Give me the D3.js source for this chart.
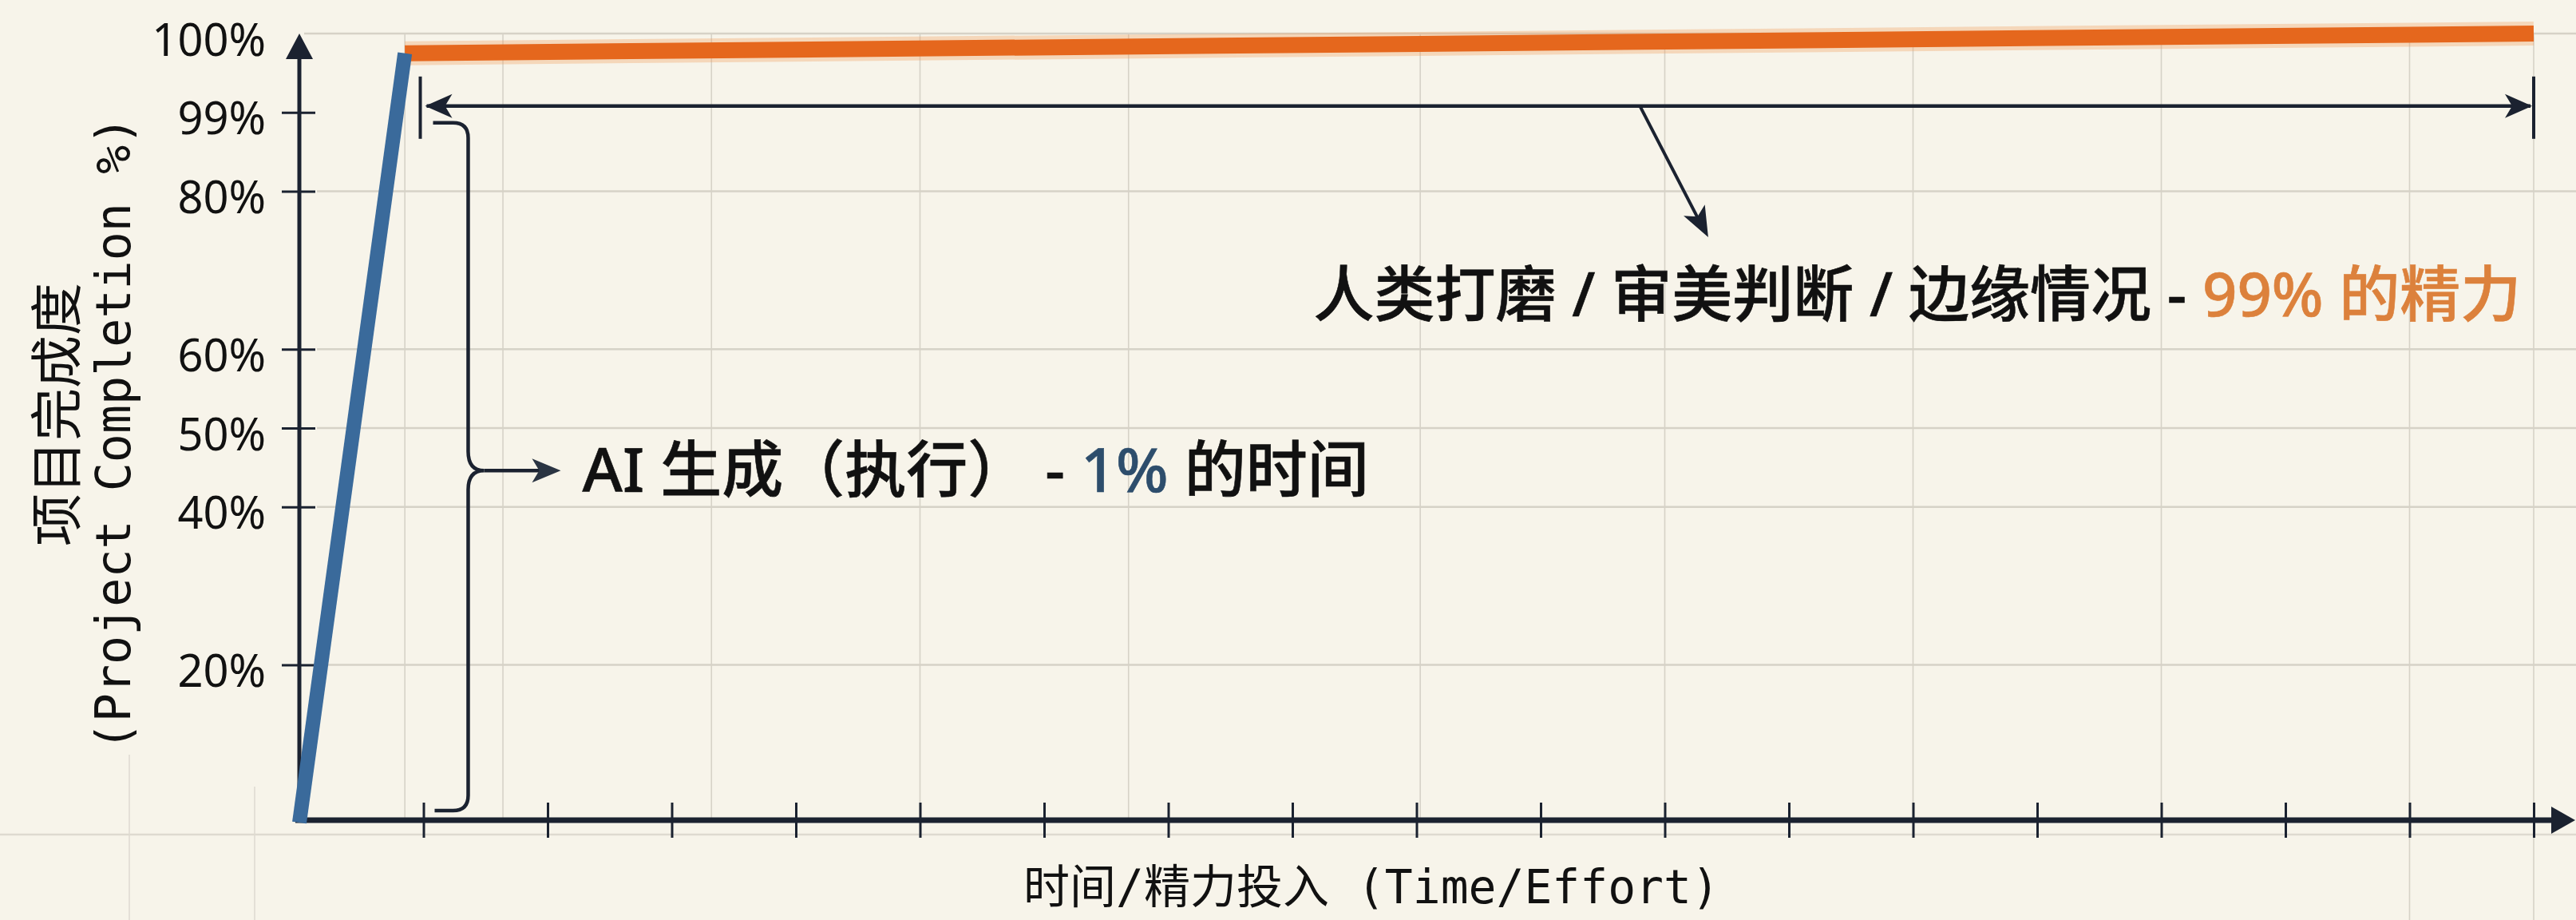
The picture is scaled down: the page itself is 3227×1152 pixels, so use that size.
<!DOCTYPE html>
<html><head><meta charset="utf-8">
<script src="https://cdn.jsdelivr.net/npm/d3@7"></script>
<style>
html,body{margin:0;padding:0;background:#f7f4ea;overflow:hidden;}
svg{display:block;}
text{white-space:pre;}
</style></head><body>
<svg id="chart" width="3227" height="1152"></svg>
<script>
// ---------------- data ----------------
const xTickValues = [1,2,3,4,5,6,7,8,9,10,11,12,13,14,15,16,17,18];
const yTickValues = [20,40,50,60,80,99,100];
const yTickLabels = ["20%","40%","50%","60%","80%","99%","100%"];
const aiX = [0, 0.85];          // AI generation phase (time)
const aiY = [0, 99.75];         // completion %
const humanX = [0.85, 18];      // human polishing phase (time)
const humanY = [99.75, 100];    // completion %
const gridXValues = [0.85, 1.64, 3.32, 5, 6.68, 9.03, 11, 13, 15, 17, 18];
const gridYValues = [20,40,50,60,80,100];
const yTitleLines = ["项目完成度", "(Project Completion %)"];
const xTitleText = "时间/精力投入 (Time/Effort)";
const aiLabelParts = ["AI 生成（执行） - ", "1%", " 的时间"];
const humanLabelParts = ["人类打磨 / 审美判断 / 边缘情况 - ", "99% 的精力"];

// ---------------- layout ----------------
const W = 3227, H = 1152;
const xLeft = 375, xRight = 3174;
const yTop = 42, yBot = 1030;
const ph = yBot - yTop;
const x = d3.scaleLinear().domain([0, 18]).range([xLeft, xRight]);
// visual (broken) scale: 99% sits at 90% of the axis height
const y = d3.scaleLinear().domain([0, 80, 99, 100]).range([yBot, yBot - 0.8*ph, yBot - 0.9*ph, yTop]);

const ink = "#1b2230";
const svg = d3.select("#chart");
svg.append("rect").attr("width", W).attr("height", H).attr("fill", "#f7f4ea");

// ---------------- grid ----------------
const grid = svg.append("g").attr("stroke", "#d6d2c7").attr("fill", "none");
grid.selectAll("line.gy").data(gridYValues).join("line")
  .attr("x1", d => d === 100 ? xLeft + 6 : xLeft + 22).attr("x2", W)
  .attr("y1", d => y(d)).attr("y2", d => y(d)).attr("stroke-width", 2.5);
grid.selectAll("line.gx").data(gridXValues).join("line")
  .attr("x1", d => x(d)).attr("x2", d => x(d))
  .attr("y1", yTop).attr("y2", d => d >= 17 ? H : yBot)
  .attr("stroke-width", 1.6);
// faint paper lines below / left of the plot
grid.append("line").attr("x1", 0).attr("x2", W).attr("y1", yBot + 15).attr("y2", yBot + 15).attr("stroke-width", 2.5).attr("stroke", "#dedad0");
grid.append("line").attr("x1", 162).attr("x2", 162).attr("y1", 945).attr("y2", H).attr("stroke-width", 1.5).attr("stroke", "#dedad0");
grid.append("line").attr("x1", 319).attr("x2", 319).attr("y1", 985).attr("y2", H).attr("stroke-width", 1.5).attr("stroke", "#dedad0");

// arrowhead helper (stealth style)
function arrowHead(g, tx, ty, dx, dy, L, w, notch, fill) {
  const n = Math.hypot(dx, dy); dx /= n; dy /= n;
  const px = -dy, py = dx;
  const pts = [
    [tx, ty],
    [tx - L*dx + w*px, ty - L*dy + w*py],
    [tx - (L - notch)*dx, ty - (L - notch)*dy],
    [tx - L*dx - w*px, ty - L*dy - w*py]
  ];
  g.append("path").attr("d", "M" + pts.map(p => p.join(",")).join("L") + "Z").attr("fill", fill);
}

// ---------------- axes ----------------
const axes = svg.append("g");
// x axis ticks
const xAxisG = axes.append("g").attr("transform", `translate(0,${yBot - 3})`)
  .call(d3.axisBottom(x).tickValues(xTickValues).tickSize(0).tickFormat(""));
xAxisG.select(".domain").remove();
xAxisG.selectAll(".tick line").attr("y1", -22).attr("y2", 22).attr("stroke", ink).attr("stroke-width", 3);
// y axis ticks + labels
const yAxisG = axes.append("g").attr("transform", `translate(${xLeft},0)`)
  .call(d3.axisLeft(y).tickValues(yTickValues).tickSize(0).tickPadding(42)
        .tickFormat((d, i) => yTickLabels[i]));
yAxisG.select(".domain").remove();
yAxisG.selectAll(".tick line").attr("x1", d => d === 100 ? 0 : -22).attr("x2", d => d === 100 ? 0 : 20)
  .attr("stroke", ink).attr("stroke-width", 3);
yAxisG.selectAll(".tick text")
  .attr("font-family", "'Noto Sans', 'Open Sans', sans-serif").attr("font-size", 56)
  .attr("fill", "#111").attr("dy", null).attr("dominant-baseline", "central")
  .attr("y", 5);

// axis lines with arrows
axes.append("line").attr("x1", xLeft - 5).attr("x2", W - 26).attr("y1", yBot - 3).attr("y2", yBot - 3)
  .attr("stroke", ink).attr("stroke-width", 7);
arrowHead(axes, W - 1, yBot - 3, 1, 0, 30, 17, 0, ink);
axes.append("line").attr("x1", xLeft).attr("x2", xLeft).attr("y1", yBot).attr("y2", yTop + 30)
  .attr("stroke", ink).attr("stroke-width", 5);
arrowHead(axes, xLeft, yTop, 0, -1, 32, 17, 0, ink);

// ---------------- series ----------------
const line = d3.line().x(d => x(d[0])).y(d => y(d[1]));
const humanPts = humanX.map((v, i) => [v, humanY[i]]);
const aiPts = aiX.map((v, i) => [v, aiY[i]]);
svg.append("path").attr("d", line(humanPts)).attr("fill", "none")
  .attr("stroke", "#f0a060").attr("stroke-opacity", 0.35).attr("stroke-width", 30);
svg.append("path").attr("d", line(humanPts)).attr("fill", "none")
  .attr("stroke", "#e5671d").attr("stroke-width", 20);
svg.append("path").attr("d", line(aiPts)).attr("fill", "none")
  .attr("stroke", "#3a6a9b").attr("stroke-width", 18);

// ---------------- annotations ----------------
const ann = svg.append("g");
// double arrow spanning the human phase
const daY = y(99) - 8;
ann.append("line").attr("x1", x(1) + 4).attr("x2", x(18) - 4).attr("y1", daY).attr("y2", daY)
  .attr("stroke", ink).attr("stroke-width", 4.5);
arrowHead(ann, x(1) + 2, daY, -1, 0, 34, 15, 9, ink);
arrowHead(ann, x(18) - 2, daY, 1, 0, 34, 15, 9, ink);
[x(1) - 4, x(18)].forEach(xx => ann.append("line").attr("x1", xx).attr("x2", xx)
  .attr("y1", daY - 37).attr("y2", daY + 41).attr("stroke", ink).attr("stroke-width", 4));
// pointer to the human label
const p0 = [x(10.8), daY], p1 = [x(11.35), y(74.2)];
ann.append("line").attr("x1", p0[0]).attr("y1", p0[1]).attr("x2", p1[0] - 10).attr("y2", p1[1] - 18)
  .attr("stroke", ink).attr("stroke-width", 4);
arrowHead(ann, p1[0], p1[1], p1[0] - p0[0], p1[1] - p0[1], 38, 15, 9, ink);

// brace for the AI phase
const bx = x(1.36), bTop = y(99) + 13, bBot = yBot - 15, bMid = y(44.6);
const r = 19;
const bracePath = `M${bx - 44},${bTop} L${bx - r},${bTop} Q${bx},${bTop} ${bx},${bTop + r}
  L${bx},${bMid - 24} Q${bx},${bMid} ${bx + 20},${bMid} Q${bx},${bMid} ${bx},${bMid + 24}
  L${bx},${bBot - r} Q${bx},${bBot} ${bx - r},${bBot} L${bx - 42},${bBot}`;
ann.append("path").attr("d", bracePath).attr("fill", "none").attr("stroke", ink).attr("stroke-width", 4.5);
ann.append("line").attr("x1", bx + 20).attr("x2", bx + 90).attr("y1", bMid).attr("y2", bMid)
  .attr("stroke", ink).attr("stroke-width", 4.5);
arrowHead(ann, bx + 116, bMid, 1, 0, 36, 15, 9, "#2a3442");

// labels
const annFont = "'Noto Sans', 'Noto Sans CJK SC', sans-serif";
const aiText = ann.append("text").attr("x", x(2.28)).attr("y", bMid + 27)
  .attr("font-family", annFont).attr("font-size", 77).attr("font-weight", 500).attr("fill", "#111")
  .attr("stroke", "#111").attr("stroke-width", 0.6);
aiText.append("tspan").text(aiLabelParts[0]);
aiText.append("tspan").text(aiLabelParts[1]).attr("fill", "#2d4d6c").attr("stroke", "#2d4d6c");
aiText.append("tspan").text(aiLabelParts[2]);

const huText = ann.append("text").attr("x", x(8.17)).attr("y", y(67) + 28)
  .attr("font-family", annFont).attr("font-size", 76).attr("font-weight", 500).attr("fill", "#111")
  .attr("stroke", "#111").attr("stroke-width", 0.6);
huText.append("tspan").text(humanLabelParts[0]);
huText.append("tspan").text(humanLabelParts[1]).attr("fill", "#dc813c").attr("stroke", "#dc813c");

// ---------------- axis titles ----------------
const monoCJK = "'DejaVu Sans Mono', 'Noto Sans CJK SC', monospace";
svg.append("text").attr("transform", "translate(66,519) rotate(-90)")
  .attr("text-anchor", "middle").attr("dominant-baseline", "central")
  .attr("font-family", "'Noto Sans CJK SC', sans-serif").attr("font-size", 66).attr("fill", "#111")
  .text(yTitleLines[0]);
svg.append("text").attr("transform", "translate(142,543) rotate(-90)")
  .attr("text-anchor", "middle").attr("dominant-baseline", "central")
  .attr("font-family", monoCJK).attr("font-size", 60).attr("fill", "#111")
  .text(yTitleLines[1]);
svg.append("text").attr("x", 1718).attr("y", 1131).attr("text-anchor", "middle")
  .attr("font-family", monoCJK).attr("font-size", 58).attr("fill", "#111")
  .text(xTitleText);
</script>
</body></html>
